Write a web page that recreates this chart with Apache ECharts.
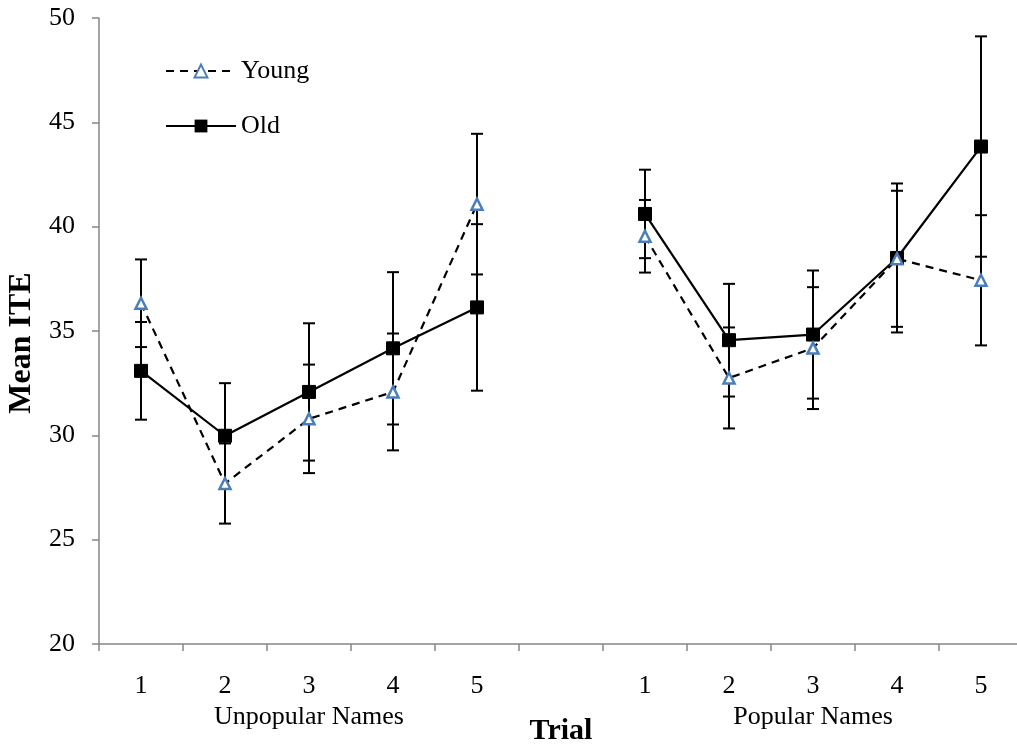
<!DOCTYPE html>
<html>
<head>
<meta charset="utf-8">
<script src="https://cdn.jsdelivr.net/npm/echarts@6/dist/echarts.min.js"></script>
<style>
  html, body { margin: 0; padding: 0; background: #fff; overflow: hidden; }
  #main { width: 1017px; height: 745px; }
</style>
</head>
<body>
<div id="main"></div>
<script>
var trials = ['1', '2', '3', '4', '5', '', '1', '2', '3', '4', '5'];
var groupNames = ['', '', 'Unpopular Names', '', '', '', '', '', 'Popular Names', '', ''];

var youngMean = [36.33, 27.69, 30.79, 32.08, 41.08, null, 39.54, 32.75, 34.18, 38.46, 37.43];
var youngErr  = [2.10, 1.92, 2.60, 2.80, 3.37, null, 1.74, 2.42, 2.92, 3.26, 3.12];
var oldMean   = [33.09, 29.98, 32.08, 34.17, 36.13, null, 40.61, 34.56, 34.83, 38.50, 43.84];
var oldErr    = [2.34, 2.52, 3.29, 3.65, 3.99, null, 2.12, 2.70, 3.07, 3.57, 5.28];

var serif = '"Liberation Serif", "Times New Roman", serif';

// error bar ranges [index, low, high]
var toBars = function (mean, err) {
    var out = [];
    mean.forEach(function (m, i) {
        if (m != null) out.push([i, m - err[i], m + err[i]]);
    });
    return out;
};

var renderBar = function (params, api) {
    var i = api.value(0);
    var lo = api.coord([i, api.value(1)]);
    var hi = api.coord([i, api.value(2)]);
    var w = 6;
    var st = { stroke: '#000', lineWidth: 2 };
    return {
        type: 'group',
        children: [
            { type: 'line', shape: { x1: lo[0], y1: lo[1], x2: hi[0], y2: hi[1] }, style: st },
            { type: 'line', shape: { x1: hi[0] - w, y1: hi[1], x2: hi[0] + w, y2: hi[1] }, style: st },
            { type: 'line', shape: { x1: lo[0] - w, y1: lo[1], x2: lo[0] + w, y2: lo[1] }, style: st }
        ]
    };
};

var myChart = echarts.init(document.getElementById('main'));
myChart.setOption({
    backgroundColor: '#fff',
    animation: false,
    grid: { left: 99, right: -6, top: 18, bottom: 101, outerBoundsMode: 'none', containLabel: false },
    legend: {
        orient: 'vertical',
        left: 165,
        top: 58,
        padding: 0,
        itemWidth: 70,
        itemHeight: 16,
        itemGap: 29,
        textStyle: { fontFamily: serif, fontSize: 26, color: '#000' },
        data: ['Young', 'Old']
    },
    xAxis: [{
        type: 'category',
        data: trials,
        boundaryGap: true,
        name: 'Trial',
        nameLocation: 'middle',
        nameGap: 72,
        nameTextStyle: { fontFamily: serif, fontSize: 30, fontWeight: 'bold', color: '#000' },
        axisLine: { lineStyle: { color: '#868686', width: 1.5 } },
        axisTick: { show: true, length: 7, interval: 0, lineStyle: { color: '#868686', width: 1.5 } },
        axisLabel: { interval: 0, margin: 29, fontFamily: serif, fontSize: 26, color: '#000' }
    }, {
        type: 'category',
        data: groupNames,
        position: 'bottom',
        boundaryGap: true,
        axisLine: { show: false },
        axisTick: { show: false },
        axisLabel: { interval: 0, margin: 60, fontFamily: serif, fontSize: 26, color: '#000' }
    }],
    yAxis: {
        type: 'value',
        min: 20,
        max: 50,
        interval: 5,
        name: 'Mean ITE',
        nameLocation: 'middle',
        nameGap: 61,
        nameTextStyle: { fontFamily: serif, fontSize: 32, fontWeight: 'bold', color: '#000', padding: [0, 24, 0, 0] },
        splitLine: { show: false },
        axisLine: { show: true, lineStyle: { color: '#868686', width: 1.5 } },
        axisTick: { show: true, length: 7, lineStyle: { color: '#868686', width: 1.5 } },
        axisLabel: { margin: 24, fontFamily: serif, fontSize: 26, color: '#000' }
    },
    series: [
        {
            type: 'custom',
            name: 'youngErr',
            renderItem: renderBar,
            data: toBars(youngMean, youngErr),
            z: 1
        },
        {
            type: 'custom',
            name: 'oldErr',
            renderItem: renderBar,
            data: toBars(oldMean, oldErr),
            z: 1
        },
        {
            type: 'line',
            name: 'Old',
            data: oldMean,
            symbol: 'rect',
            symbolSize: 13,
            itemStyle: { color: '#000', borderColor: '#000' },
            lineStyle: { color: '#000', width: 2.2, type: 'solid' },
            z: 3
        },
        {
            type: 'line',
            name: 'Young',
            data: youngMean,
            symbol: 'triangle',
            symbolSize: 11,
            itemStyle: { color: '#fff', borderColor: '#4A7EBB', borderWidth: 2.5 },
            lineStyle: { color: '#000', width: 2.2, type: [8, 6] },
            z: 4
        }
    ]
});
</script>
</body>
</html>
